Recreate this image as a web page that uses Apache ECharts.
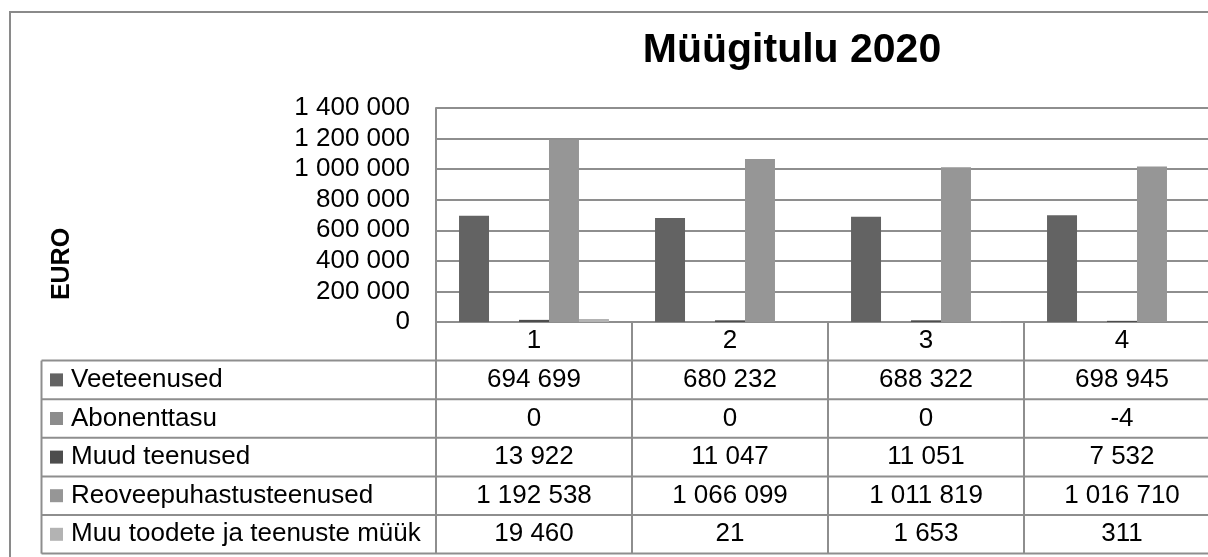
<!DOCTYPE html>
<html>
<head>
<meta charset="utf-8">
<title>Müügitulu 2020</title>
<script src="https://cdn.jsdelivr.net/npm/echarts@6/dist/echarts.min.js"></script>
<style>
  html, body { margin: 0; padding: 0; background: #fff; }
  #main { width: 1208px; height: 557px; }
</style>
</head>
<body>
<div id="main"></div>
<script>
// andmed
var categories = ['1', '2', '3', '4']
var seriesNames = ['Veeteenused', 'Abonenttasu', 'Muud teenused', 'Reoveepuhastusteenused', 'Muu toodete ja teenuste müük']
var veeteenused = [694699, 680232, 688322, 698945]
var abonenttasu = [0, 0, 0, -4]
var muudTeenused = [13922, 11047, 11051, 7532]
var reovesi = [1192538, 1066099, 1011819, 1016710]
var muuMyyk = [19460, 21, 1653, 311]
var yTicks = [0, 200000, 400000, 600000, 800000, 1000000, 1200000, 1400000]

var colors = ['#636363', '#8c8c8c', '#4d4d4d', '#969696', '#b3b3b3']
var allValues = [veeteenused, abonenttasu, muudTeenused, reovesi, muuMyyk]
var FONT = "'Liberation Sans', Arial, sans-serif"
var LINE = '#8e8e8e'
var FS = 26

function fmt(v) {
  return String(v).replace(/\B(?=(\d{3})+(?!\d))/g, ' ')
}

var chart = echarts.init(document.getElementById('main'))

var option = {
  animation: false,
  textStyle: { fontFamily: FONT },
  title: {
    text: 'Müügitulu 2020',
    left: 792,
    top: 30,
    padding: 0,
    textAlign: 'center',
    textStyle: { fontSize: 41, fontWeight: 'bold', color: '#000', fontFamily: FONT }
  },
  grid: {
    left: 436,
    top: 108,
    width: 784,
    height: 214,
    containLabel: false,
    outerBoundsMode: 'none'
  },
  xAxis: {
    type: 'category',
    data: categories,
    axisLine: { lineStyle: { color: LINE, width: 2 } },
    axisTick: { show: true, length: 232, lineStyle: { color: LINE, width: 2 } },
    axisLabel: { margin: 6, fontSize: FS, color: '#000', fontFamily: FONT },
    splitLine: { show: false }
  },
  yAxis: {
    type: 'value',
    min: yTicks[0],
    max: yTicks[yTicks.length - 1],
    interval: yTicks[1] - yTicks[0],
    axisLine: { show: true, lineStyle: { color: LINE, width: 2 } },
    axisTick: { show: false },
    axisLabel: { margin: 26, fontSize: FS, color: '#000', fontFamily: FONT, formatter: fmt },
    splitLine: { lineStyle: { color: LINE, width: 2 } }
  },
  series: seriesNames.map(function (name, i) {
    return {
      name: name,
      type: 'bar',
      data: allValues[i],
      barGap: '0%',
      barCategoryGap: '23.5%',
      itemStyle: { color: colors[i] }
    }
  })
}

chart.setOption(option)

// andmetabel graafiku all
var zeroY = chart.convertToPixel({ yAxisIndex: 0 }, 0)
var rowH = 38.6
var tableLeft = 41.5
var tableTop = zeroY + rowH
var graphics = []

// välimine raam
graphics.push({
  type: 'rect',
  shape: { x: 10, y: 12, width: 1400, height: 700 },
  style: { fill: null, stroke: '#8a8a8a', lineWidth: 2 },
  silent: true
})

// telje nimi
graphics.push({
  type: 'text',
  x: 62,
  y: 264,
  rotation: Math.PI / 2,
  style: {
    text: 'EURO',
    fontSize: 25,
    fontWeight: 'bold',
    fontFamily: FONT,
    fill: '#000',
    align: 'center',
    verticalAlign: 'middle'
  }
})

// horisontaalsed jooned
for (var r = 0; r <= seriesNames.length; r++) {
  var y = tableTop + r * rowH
  graphics.push({
    type: 'line',
    shape: { x1: tableLeft, y1: y, x2: 1400, y2: y },
    style: { stroke: LINE, lineWidth: 2 },
    silent: true
  })
}
// vasak serv
graphics.push({
  type: 'line',
  shape: { x1: tableLeft, y1: tableTop, x2: tableLeft, y2: tableTop + seriesNames.length * rowH },
  style: { stroke: LINE, lineWidth: 2 },
  silent: true
})

seriesNames.forEach(function (name, i) {
  var cy = tableTop + (i + 0.5) * rowH
  graphics.push({
    type: 'rect',
    shape: { x: 50, y: cy - 6.5, width: 13, height: 13 },
    style: { fill: colors[i] }
  })
  graphics.push({
    type: 'text',
    x: 71,
    y: cy,
    style: { text: name, fontSize: FS, fontFamily: FONT, fill: '#000', verticalAlign: 'middle' }
  })
  categories.forEach(function (c, j) {
    var cx = chart.convertToPixel({ xAxisIndex: 0 }, c)
    graphics.push({
      type: 'text',
      x: cx,
      y: cy,
      style: {
        text: fmt(allValues[i][j]),
        fontSize: FS,
        fontFamily: FONT,
        fill: '#000',
        align: 'center',
        verticalAlign: 'middle'
      }
    })
  })
})

chart.setOption({ graphic: graphics })
</script>
</body>
</html>
